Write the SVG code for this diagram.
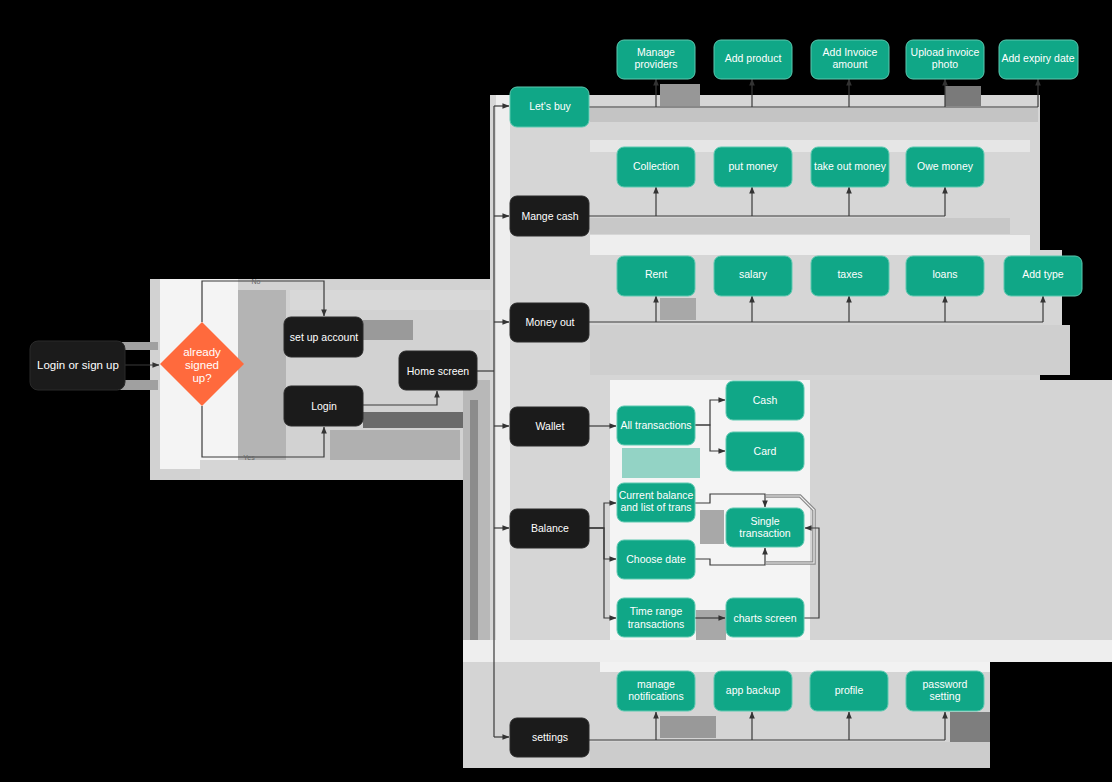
<svg xmlns="http://www.w3.org/2000/svg" width="1112" height="782" viewBox="0 0 1112 782">
<defs>
<marker id="arr" viewBox="0 0 8 8" refX="7.5" refY="4" markerWidth="7" markerHeight="7" markerUnits="userSpaceOnUse" orient="auto">
<path d="M0,0.8 L8,4 L0,7.2 z" fill="#333"/>
</marker>
<style>
.dark{fill:#1b1b1b;stroke:#2a2a2a;stroke-width:1}
.green{fill:#10a787;stroke:#5cc9b0;stroke-width:1}
.t{font-family:"Liberation Sans",Arial,sans-serif;font-size:10.5px;fill:#ffffff;text-anchor:middle}
.tl{font-family:"Liberation Sans",Arial,sans-serif;font-size:11.5px;fill:#ffffff;text-anchor:middle}
.c{fill:none;stroke:#3a3a3a;stroke-width:1.2}
.ca{fill:none;stroke:#3a3a3a;stroke-width:1.2;marker-end:url(#arr)}
.lbl{font-family:"Liberation Sans",Arial,sans-serif;font-size:7px;fill:#666;text-anchor:middle}
</style>
</defs>
<rect width="1112" height="782" fill="#000"/>
<g id="background">
<rect x="150" y="279" width="342" height="201" fill="#d2d2d2"/>
<rect x="160" y="279" width="78" height="190" fill="#f4f4f4"/>
<rect x="238" y="290" width="48" height="170" fill="#b4b4b4"/>
<rect x="290" y="290" width="200" height="20" fill="#d8d8d8"/>
<rect x="363" y="320" width="50" height="20" fill="#9a9a9a"/>
<rect x="363" y="412" width="130" height="16" fill="#6a6a6a"/>
<rect x="330" y="430" width="130" height="30" fill="#b0b0b0"/>
<rect x="200" y="460" width="300" height="20" fill="#d6d6d6"/>
<rect x="118" y="342" width="40" height="8" fill="#a0a0a0"/>
<rect x="118" y="380" width="40" height="10" fill="#a0a0a0"/>
<rect x="463" y="380" width="30" height="388" fill="#b8b8b8"/>
<rect x="470" y="400" width="8" height="368" fill="#8c8c8c"/>
<rect x="490" y="95" width="550" height="545" fill="#d6d6d6"/>
<rect x="496" y="95" width="14" height="545" fill="#eeeeee"/>
<rect x="1040" y="250" width="22" height="95" fill="#d6d6d6"/>
<rect x="800" y="380" width="312" height="260" fill="#d4d4d4"/>
<rect x="590" y="108" width="448" height="14" fill="#c4c4c4"/>
<rect x="590" y="140" width="440" height="12" fill="#e6e6e6"/>
<rect x="660" y="84" width="40" height="22" fill="#979797"/>
<rect x="945" y="86" width="36" height="20" fill="#7a7a7a"/>
<rect x="590" y="218" width="420" height="16" fill="#c8c8c8"/>
<rect x="590" y="235" width="440" height="20" fill="#eeeeee"/>
<rect x="590" y="325" width="480" height="50" fill="#cfcfcf"/>
<rect x="660" y="298" width="36" height="22" fill="#a8a8a8"/>
<rect x="610" y="380" width="200" height="262" fill="#f4f4f4"/>
<rect x="622" y="448" width="78" height="30" fill="#93d3c5"/>
<rect x="700" y="510" width="24" height="34" fill="#a8a8a8"/>
<rect x="696" y="610" width="30" height="30" fill="#a8a8a8"/>
<rect x="463" y="640" width="649" height="22" fill="#eeeeee"/>
<rect x="463" y="662" width="527" height="106" fill="#d4d4d4"/>
<rect x="600" y="662" width="390" height="10" fill="#f2f2f2"/>
<rect x="660" y="716" width="56" height="22" fill="#999999"/>
<rect x="950" y="712" width="40" height="56" fill="#7e7e7e"/>
<rect x="590" y="742" width="400" height="26" fill="#cccccc"/>
</g>
<g id="connectors">
<path class="ca" d="M125,365 H159"/>
<path class="ca" d="M202,322 V281 H324 V316"/>
<text class="lbl" x="256" y="284">No</text>
<path class="ca" d="M202,406 V457 H324 V427"/>
<text class="lbl" x="249" y="460">Yes</text>
<path class="ca" d="M363,405 H437 V391"/>
<path class="c" d="M477,371 H494"/>
<path class="c" d="M494,106 V737"/>
<path class="ca" d="M494,106 H509"/>
<path class="ca" d="M494,216 H509"/>
<path class="ca" d="M494,322 H509"/>
<path class="ca" d="M494,426 H509"/>
<path class="ca" d="M494,528 H509"/>
<path class="ca" d="M494,737 H509"/>
<path class="c" d="M589,107 H1038"/>
<path class="ca" d="M656,107 V79"/>
<path class="ca" d="M752,107 V79"/>
<path class="ca" d="M849,107 V79"/>
<path class="ca" d="M945,107 V79"/>
<path class="ca" d="M1038,107 V79"/>
<path class="c" d="M589,216 H945"/>
<path class="ca" d="M656,216 V187"/>
<path class="ca" d="M752,216 V187"/>
<path class="ca" d="M849,216 V187"/>
<path class="ca" d="M945,216 V187"/>
<path class="c" d="M589,322 H1043"/>
<path class="ca" d="M656,322 V296"/>
<path class="ca" d="M752,322 V296"/>
<path class="ca" d="M849,322 V296"/>
<path class="ca" d="M945,322 V296"/>
<path class="ca" d="M1043,322 V296"/>
<path class="ca" d="M589,426 H616"/>
<path class="ca" d="M694,425 H710 V400 H725"/>
<path class="ca" d="M694,425 H710 V451 H725"/>
<path class="ca" d="M589,528 H604 V503 H616"/>
<path class="ca" d="M589,528 H604 V559 H616"/>
<path class="ca" d="M589,528 H604 V618 H616"/>
<path fill="none" stroke="#8a8a8a" stroke-width="3.5" d="M766,496 H800 L814,510 V563 H766"/>
<path fill="none" stroke="#f0f0f0" stroke-width="1.2" d="M766,496 H800 L814,510 V563 H766"/>
<path class="ca" d="M695,503 H710 V494 H765 V507"/>
<path class="ca" d="M695,559 H710 V565 H765 V548"/>
<path class="ca" d="M695,618 H725"/>
<path class="ca" d="M804,618 H819 V528 H805"/>
<path class="c" d="M589,740 H945"/>
<path class="ca" d="M656,740 V712"/>
<path class="ca" d="M752,740 V712"/>
<path class="ca" d="M849,740 V712"/>
<path class="ca" d="M945,740 V712"/>
</g>
<g id="login-or-signup"><rect class="dark" x="30" y="341" width="95" height="49" rx="8"/><text class="tl" x="78" y="369">Login or sign up</text></g>
<g id="already-signed-up"><polygon points="202,322 244,364 202,406 160,364" fill="#ff6a3d"/><text class="tl" x="202" y="356">already</text><text class="tl" x="202" y="369">signed</text><text class="tl" x="202" y="382">up?</text></g>
<g id="set-up-account"><rect class="dark" x="284" y="317" width="79" height="40" rx="7"/><text class="t" x="324" y="341">set up account</text></g>
<g id="login"><rect class="dark" x="284" y="386" width="79" height="40" rx="7"/><text class="t" x="324" y="410">Login</text></g>
<g id="home-screen"><rect class="dark" x="399" y="351" width="78" height="39" rx="7"/><text class="t" x="438" y="375">Home screen</text></g>
<g id="lets-buy"><rect class="green" x="510" y="87" width="79" height="40" rx="7"/><text class="t" x="550" y="110">Let's buy</text></g>
<g id="mange-cash"><rect class="dark" x="510" y="196" width="79" height="40" rx="7"/><text class="t" x="550" y="220">Mange cash</text></g>
<g id="money-out"><rect class="dark" x="510" y="303" width="79" height="39" rx="7"/><text class="t" x="550" y="326">Money out</text></g>
<g id="wallet"><rect class="dark" x="510" y="407" width="79" height="39" rx="7"/><text class="t" x="550" y="430">Wallet</text></g>
<g id="balance"><rect class="dark" x="510" y="509" width="79" height="39" rx="7"/><text class="t" x="550" y="532">Balance</text></g>
<g id="settings"><rect class="dark" x="510" y="718" width="79" height="39" rx="7"/><text class="t" x="550" y="741">settings</text></g>
<g id="manage-providers"><rect class="green" x="617" y="40" width="78" height="39" rx="7"/><text class="t" x="656" y="56">Manage</text><text class="t" x="656" y="68">providers</text></g>
<g id="add-product"><rect class="green" x="714" y="40" width="78" height="39" rx="7"/><text class="t" x="753" y="62">Add product</text></g>
<g id="add-invoice-amount"><rect class="green" x="811" y="40" width="78" height="39" rx="7"/><text class="t" x="850" y="56">Add Invoice</text><text class="t" x="850" y="68">amount</text></g>
<g id="upload-invoice-photo"><rect class="green" x="906" y="40" width="78" height="39" rx="7"/><text class="t" x="945" y="56">Upload invoice</text><text class="t" x="945" y="68">photo</text></g>
<g id="add-expiry-date"><rect class="green" x="999" y="40" width="79" height="39" rx="7"/><text class="t" x="1038" y="62">Add expiry date</text></g>
<g id="collection"><rect class="green" x="617" y="147" width="78" height="40" rx="7"/><text class="t" x="656" y="170">Collection</text></g>
<g id="put-money"><rect class="green" x="714" y="147" width="78" height="40" rx="7"/><text class="t" x="753" y="170">put money</text></g>
<g id="take-out-money"><rect class="green" x="811" y="147" width="78" height="40" rx="7"/><text class="t" x="850" y="170">take out money</text></g>
<g id="owe-money"><rect class="green" x="906" y="147" width="78" height="40" rx="7"/><text class="t" x="945" y="170">Owe money</text></g>
<g id="rent"><rect class="green" x="617" y="256" width="78" height="40" rx="7"/><text class="t" x="656" y="278">Rent</text></g>
<g id="salary"><rect class="green" x="714" y="256" width="78" height="40" rx="7"/><text class="t" x="753" y="278">salary</text></g>
<g id="taxes"><rect class="green" x="811" y="256" width="78" height="40" rx="7"/><text class="t" x="850" y="278">taxes</text></g>
<g id="loans"><rect class="green" x="906" y="256" width="78" height="40" rx="7"/><text class="t" x="945" y="278">loans</text></g>
<g id="add-type"><rect class="green" x="1004" y="256" width="78" height="40" rx="7"/><text class="t" x="1043" y="278">Add type</text></g>
<g id="all-transactions"><rect class="green" x="617" y="406" width="78" height="39" rx="7"/><text class="t" x="656" y="429">All transactions</text></g>
<g id="cash"><rect class="green" x="726" y="381" width="78" height="39" rx="7"/><text class="t" x="765" y="404">Cash</text></g>
<g id="card"><rect class="green" x="726" y="432" width="78" height="39" rx="7"/><text class="t" x="765" y="455">Card</text></g>
<g id="current-balance"><rect class="green" x="617" y="483" width="78" height="39" rx="7"/><text class="t" x="656" y="499">Current balance</text><text class="t" x="656" y="511">and list of trans</text></g>
<g id="single-transaction"><rect class="green" x="726" y="508" width="78" height="39" rx="7"/><text class="t" x="765" y="525">Single</text><text class="t" x="765" y="537">transaction</text></g>
<g id="choose-date"><rect class="green" x="617" y="540" width="78" height="39" rx="7"/><text class="t" x="656" y="563">Choose date</text></g>
<g id="time-range-transactions"><rect class="green" x="617" y="598" width="78" height="39" rx="7"/><text class="t" x="656" y="615">Time range</text><text class="t" x="656" y="628">transactions</text></g>
<g id="charts-screen"><rect class="green" x="726" y="598" width="78" height="39" rx="7"/><text class="t" x="765" y="622">charts screen</text></g>
<g id="manage-notifications"><rect class="green" x="617" y="671" width="78" height="40" rx="7"/><text class="t" x="656" y="688">manage</text><text class="t" x="656" y="700">notifications</text></g>
<g id="app-backup"><rect class="green" x="714" y="671" width="78" height="40" rx="7"/><text class="t" x="753" y="694">app backup</text></g>
<g id="profile"><rect class="green" x="810" y="671" width="78" height="40" rx="7"/><text class="t" x="849" y="694">profile</text></g>
<g id="password-setting"><rect class="green" x="906" y="671" width="78" height="40" rx="7"/><text class="t" x="945" y="688">password</text><text class="t" x="945" y="700">setting</text></g>
</svg>
